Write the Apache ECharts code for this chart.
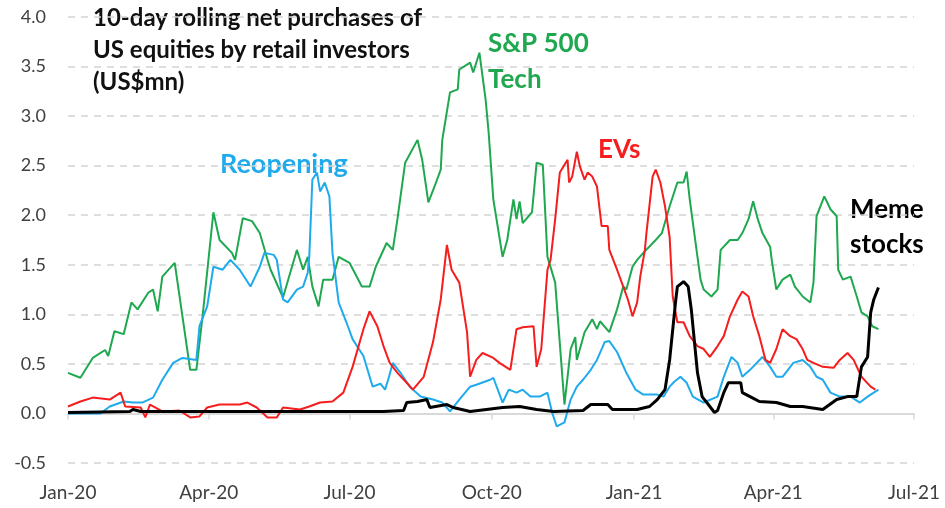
<!DOCTYPE html>
<html>
<head>
<meta charset="utf-8">
<script src="https://cdn.jsdelivr.net/npm/echarts@6/dist/echarts.min.js"></script>
<style>
  html, body { margin: 0; padding: 0; background: #fff; }
  #chart { width: 945px; height: 508px; }
</style>
</head>
<body>
<div id="chart"></div>
<script>
// x values are days since 1 Jan 2020
const tickDays = [0, 91, 182, 274, 366, 456, 547];
const tickLabels = ['Jan-20', 'Apr-20', 'Jul-20', 'Oct-20', 'Jan-21', 'Apr-21', 'Jul-21'];

const techDays = [0, 8, 16, 24, 26, 30, 36, 41, 45, 52, 55, 58, 61, 69, 79, 83, 87, 94, 98, 106, 108, 113, 119, 124, 129, 131, 139, 148, 152, 155, 158, 162, 165, 171, 175, 182, 190, 195, 199, 206, 210, 213, 218, 226, 229, 233, 237, 241, 242, 247, 252, 253, 260, 262, 266, 270, 272, 275, 281, 284, 288, 290, 292, 294, 300, 303, 307, 310, 315, 321, 325, 328, 329, 334, 339, 342, 344, 350, 355, 359, 361, 365, 368, 372, 380, 384, 389, 394, 398, 400, 402, 407, 409, 411, 416, 420, 422, 428, 433, 436, 440, 443, 446, 449, 454, 455, 458, 462, 467, 470, 475, 480, 482, 484, 489, 493, 497, 498, 501, 506, 510, 513, 517, 520, 524];
const techVals = [0.41, 0.36, 0.56, 0.64, 0.58, 0.83, 0.80, 1.12, 1.05, 1.22, 1.25, 1.03, 1.38, 1.52, 0.44, 0.44, 0.98, 2.03, 1.75, 1.62, 1.55, 1.97, 1.94, 1.82, 1.55, 1.45, 1.17, 1.65, 1.45, 1.58, 1.28, 1.08, 1.35, 1.35, 1.58, 1.52, 1.28, 1.28, 1.48, 1.72, 1.65, 1.96, 2.53, 2.76, 2.56, 2.13, 2.29, 2.46, 2.76, 3.24, 3.27, 3.47, 3.54, 3.44, 3.64, 3.17, 2.83, 2.16, 1.58, 1.75, 2.16, 1.96, 2.14, 1.92, 2.03, 2.53, 2.51, 1.58, 1.32, 0.09, 0.65, 0.77, 0.54, 0.82, 0.95, 0.85, 0.93, 0.82, 1.05, 1.28, 1.25, 1.48, 1.55, 1.62, 1.75, 1.82, 2.09, 2.33, 2.33, 2.44, 2.16, 1.58, 1.35, 1.25, 1.18, 1.25, 1.65, 1.75, 1.75, 1.82, 1.96, 2.14, 1.96, 1.82, 1.68, 1.55, 1.25, 1.35, 1.40, 1.28, 1.18, 1.12, 1.32, 1.99, 2.19, 2.06, 1.99, 1.45, 1.35, 1.38, 1.18, 1.02, 0.98, 0.88, 0.85];

const reopenDays = [0, 21, 27, 36, 42, 48, 55, 61, 68, 74, 83, 85, 90, 94, 100, 105, 111, 118, 124, 127, 133, 135, 139, 142, 148, 152, 155, 156, 158, 161, 163, 166, 169, 171, 175, 180, 184, 191, 197, 202, 205, 207, 210, 215, 221, 228, 236, 242, 247, 253, 260, 264, 273, 275, 281, 285, 290, 294, 299, 305, 310, 313, 316, 321, 325, 329, 333, 338, 342, 347, 350, 355, 361, 367, 372, 381, 385, 389, 392, 396, 400, 404, 411, 420, 424, 429, 433, 436, 441, 449, 454, 458, 462, 469, 475, 480, 484, 488, 493, 499, 506, 512, 517, 524];
const reopenVals = [0.0, 0.0, 0.07, 0.12, 0.11, 0.11, 0.16, 0.34, 0.51, 0.56, 0.54, 0.88, 1.08, 1.48, 1.45, 1.55, 1.45, 1.28, 1.48, 1.62, 1.60, 1.55, 1.15, 1.12, 1.25, 1.28, 1.42, 1.58, 2.36, 2.43, 2.24, 2.33, 2.19, 1.62, 1.12, 0.92, 0.75, 0.58, 0.27, 0.30, 0.24, 0.34, 0.51, 0.41, 0.27, 0.17, 0.14, 0.11, 0.02, 0.14, 0.27, 0.29, 0.34, 0.36, 0.11, 0.24, 0.21, 0.24, 0.17, 0.17, 0.21, 0.01, -0.13, -0.09, 0.14, 0.27, 0.34, 0.44, 0.54, 0.72, 0.73, 0.62, 0.41, 0.24, 0.19, 0.19, 0.17, 0.27, 0.32, 0.37, 0.31, 0.17, 0.11, 0.17, 0.37, 0.57, 0.51, 0.37, 0.44, 0.57, 0.47, 0.37, 0.37, 0.51, 0.54, 0.47, 0.37, 0.34, 0.21, 0.17, 0.17, 0.11, 0.17, 0.24];

const evDays = [0, 8, 16, 27, 34, 37, 47, 50, 53, 61, 72, 79, 85, 90, 98, 111, 116, 122, 129, 135, 139, 150, 156, 163, 171, 178, 184, 191, 195, 200, 204, 208, 213, 219, 223, 230, 236, 241, 245, 248, 253, 258, 260, 264, 268, 275, 279, 286, 290, 294, 301, 303, 306, 310, 312, 315, 318, 323, 324, 326, 329, 331, 334, 336, 339, 342, 345, 349, 350, 355, 359, 362, 365, 368, 370, 373, 374, 378, 380, 383, 386, 389, 391, 394, 398, 402, 407, 411, 415, 420, 424, 428, 433, 436, 440, 443, 447, 451, 454, 458, 462, 467, 471, 475, 478, 482, 488, 495, 499, 504, 508, 513, 519, 522];
const evVals = [0.07, 0.12, 0.16, 0.14, 0.21, 0.07, 0.06, -0.04, 0.09, 0.02, 0.03, -0.04, -0.03, 0.06, 0.09, 0.09, 0.11, 0.06, -0.04, -0.04, 0.06, 0.04, 0.07, 0.11, 0.12, 0.21, 0.47, 0.85, 1.03, 0.88, 0.68, 0.51, 0.41, 0.31, 0.24, 0.37, 0.72, 1.15, 1.70, 1.45, 1.32, 0.82, 0.37, 0.54, 0.61, 0.56, 0.51, 0.44, 0.85, 0.87, 0.88, 0.47, 0.65, 1.45, 1.55, 1.96, 2.43, 2.56, 2.33, 2.39, 2.64, 2.49, 2.36, 2.43, 2.39, 2.29, 1.89, 1.89, 1.65, 1.45, 1.28, 1.15, 0.98, 1.12, 1.38, 1.65, 1.82, 2.39, 2.46, 2.33, 2.09, 1.78, 1.18, 0.92, 0.92, 0.78, 0.68, 0.65, 0.57, 0.68, 0.78, 0.98, 1.15, 1.23, 1.18, 0.98, 0.78, 0.54, 0.51, 0.65, 0.85, 0.78, 0.75, 0.65, 0.54, 0.51, 0.47, 0.46, 0.54, 0.61, 0.54, 0.37, 0.27, 0.24];

const memeDays = [0, 40, 42, 47, 204, 217, 219, 226, 232, 234, 245, 249, 260, 281, 292, 303, 314, 333, 338, 349, 352, 368, 376, 381, 386, 389, 393, 394, 398, 401, 403, 407, 410, 414, 418, 420, 424, 427, 435, 436, 441, 447, 458, 467, 475, 488, 497, 504, 510, 513, 517, 519, 521, 524];
const memeVals = [0.01, 0.02, 0.04, 0.02, 0.02, 0.03, 0.11, 0.12, 0.14, 0.06, 0.09, 0.06, 0.02, 0.06, 0.07, 0.04, 0.02, 0.03, 0.09, 0.09, 0.04, 0.04, 0.07, 0.14, 0.24, 0.54, 1.15, 1.28, 1.33, 1.28, 1.05, 0.41, 0.17, 0.09, 0.01, 0.03, 0.21, 0.31, 0.31, 0.21, 0.17, 0.12, 0.11, 0.07, 0.07, 0.04, 0.14, 0.17, 0.17, 0.47, 0.57, 1.02, 1.15, 1.27];

const GREEN = '#1fa84f';
const BLUE = '#1fabeb';
const RED = '#f51d1d';
const BLACK = '#000000';
const FONT = 'Lato';

function pairs(days, vals) {
  return days.map((d, i) => [d, vals[i]]);
}

function lineSeries(name, days, vals, color, width) {
  return {
    name: name,
    type: 'line',
    xAxisIndex: 0,
    data: pairs(days, vals),
    showSymbol: false,
    symbol: 'none',
    smooth: false,
    lineStyle: { color: color, width: width },
    emphasis: { disabled: true }
  };
}

function label(text, x, y, color, size) {
  return {
    type: 'text',
    left: x,
    top: y,
    style: {
      text: text,
      fill: color,
      font: 'bold ' + size + 'px ' + FONT
    }
  };
}

const chart = echarts.init(document.getElementById('chart'), null, { renderer: 'canvas' });

chart.setOption({
  animation: false,
  backgroundColor: '#fff',
  grid: { left: 68, right: 31, top: 17, bottom: 45 },
  xAxis: [
    {
      type: 'value',
      min: 0,
      max: 547,
      position: 'bottom',
      axisLine: { onZero: true, lineStyle: { color: '#d9d9d9', width: 2 } },
      axisTick: { show: true, customValues: tickDays, length: 6, lineStyle: { color: '#d9d9d9', width: 1.5 } },
      axisLabel: { show: false },
      splitLine: { show: false }
    },
    {
      type: 'value',
      min: 0,
      max: 547,
      position: 'bottom',
      axisLine: { show: false, onZero: false },
      axisTick: { show: false },
      axisLabel: {
        customValues: tickDays,
        formatter: v => tickLabels[tickDays.indexOf(v)],
        color: '#404040',
        fontFamily: FONT,
        fontSize: 19,
        margin: 20
      },
      splitLine: { show: false }
    }
  ],
  yAxis: {
    type: 'value',
    min: -0.5,
    max: 4,
    interval: 0.5,
    axisLine: { show: false },
    axisTick: { show: false },
    axisLabel: {
      formatter: v => v.toFixed(1),
      color: '#404040',
      fontFamily: FONT,
      fontSize: 18,
      margin: 22
    },
    splitLine: { lineStyle: { color: '#d4d4d4', type: [7, 6], width: 1.5 } }
  },
  series: [
    lineSeries('S&P 500 Tech', techDays, techVals, GREEN, 2),
    lineSeries('Reopening', reopenDays, reopenVals, BLUE, 2),
    lineSeries('EVs', evDays, evVals, RED, 2),
    lineSeries('Meme stocks', memeDays, memeVals, BLACK, 3)
  ],
  graphic: [
    label('10-day rolling net purchases of', 93, 6, '#111', 24),
    label('US equities by retail investors', 93, 38, '#111', 24),
    label('(US$mn)', 93, 70, '#111', 24),
    label('Reopening', 220, 151, BLUE, 27),
    label('S&P 500', 488, 31, GREEN, 26),
    label('Tech', 488, 67, GREEN, 26),
    label('EVs', 598, 137, RED, 26),
    label('Meme', 850, 197, BLACK, 26),
    label('stocks', 850, 232, BLACK, 26)
  ]
});
</script>
</body>
</html>
